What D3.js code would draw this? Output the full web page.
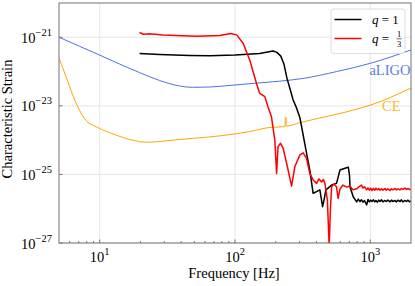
<!DOCTYPE html>
<html>
<head>
<meta charset="utf-8">
<script src="https://cdn.jsdelivr.net/npm/d3@7"></script>
<style>
  body { margin: 0; background: #fff; }
  svg { display: block; font-family: "Liberation Serif", "DejaVu Serif", serif; }
</style>
</head>
<body>
<div id="chart"></div>
<script>
// frequencies in Hz, strains as log10 exponents
const aligoFreq = [5, 7.07, 10, 14, 19.7, 27.7, 38.9, 48.6, 65, 100, 152, 214, 319, 563, 1000, 2000];
const aligoLogH = [-21.0, -21.26, -21.52, -21.78, -22.03, -22.26, -22.42, -22.46, -22.45, -22.39, -22.33, -22.28, -22.20, -22.00, -21.76, -21.37];

const ceFreq = [5, 5.64, 6.31, 7.07, 7.93, 9.4, 11.8, 14.8, 17.5, 22.1, 38.9, 100, 128.5, 181, 227, 234, 236, 238, 240, 302, 839, 1000, 2000];
const ceLogH = [-21.61, -22.15, -22.68, -23.12, -23.43, -23.61, -23.78, -23.92, -24.0, -24.06, -23.98, -23.82, -23.75, -23.63, -23.61, -23.60, -23.33, -23.33, -23.59, -23.49, -23.07, -22.98, -22.48];

const q1Freq = [19.7, 27.7, 46.1, 65, 100, 152, 191, 204, 218, 230, 242, 254, 269, 285, 302, 319, 338, 357, 378, 401, 424, 444, 458, 470, 518, 563, 597, 650, 688, 702, 708, 748,
  793, 815, 839, 860, 883, 905, 940, 962, 985, 1008, 1030, 1055, 1080, 1102, 1128, 1155, 1180, 1210, 1240, 1285, 1315, 1350, 1400, 1435, 1470, 1525, 1560, 1600, 1660, 1700, 1740, 1808, 1850, 1900, 1950, 2000];
const q1LogH = [-21.47, -21.50, -21.53, -21.54, -21.52, -21.47, -21.40, -21.44, -21.55, -21.78, -22.19, -22.48, -22.83, -23.06, -23.35, -23.85, -24.38, -24.87, -25.55, -25.50, -25.45, -25.94, -25.69, -25.45, -25.31, -25.26, -24.87, -24.82, -24.79, -25.02, -25.36, -25.65,
  -25.80, -25.72, -25.79, -25.74, -25.81, -25.76, -25.89, -25.73, -25.80, -25.75, -25.79, -25.74, -25.80, -25.76, -25.81, -25.75, -25.79, -25.74, -25.80, -25.76, -25.79, -25.75, -25.80, -25.75, -25.79, -25.76, -25.80, -25.75, -25.79, -25.74, -25.80, -25.76, -25.79, -25.75, -25.80, -25.77];

const q3Freq = [19.7, 21.1, 23.4, 29.1, 52, 77.1, 92.9, 103, 115, 128.5, 144, 152, 166, 175.5, 186, 197, 203, 208, 217, 227, 247, 262, 277, 302, 319, 338, 357, 378, 401, 417, 436, 450, 462, 482, 497, 507, 518, 538, 563, 579, 597, 628, 669, 708, 745,
  793, 815, 839, 860, 883, 905, 940, 962, 985, 1008, 1030, 1055, 1080, 1102, 1128, 1155, 1180, 1210, 1240, 1285, 1315, 1350, 1400, 1435, 1470, 1525, 1560, 1600, 1660, 1700, 1740, 1808, 1850, 1900, 1950, 2000];
const q3LogH = [-20.86, -20.91, -20.90, -20.93, -20.97, -20.95, -20.89, -20.93, -21.18, -21.66, -22.34, -22.63, -22.73, -23.03, -23.32, -24.0, -24.97, -24.19, -24.09, -24.24, -24.87, -25.34, -24.77, -24.43, -24.37, -24.53, -24.97, -25.16, -25.26, -25.13, -25.22, -25.15, -25.26, -25.75, -27.1, -26.04, -25.36, -25.28, -25.36, -25.70, -25.43, -25.31, -25.37, -25.34, -25.45,
  -25.42, -25.38, -25.34, -25.31, -25.40, -25.36, -25.45, -25.39, -25.46, -25.40, -25.47, -25.41, -25.46, -25.40, -25.45, -25.41, -25.46, -25.42, -25.46, -25.41, -25.46, -25.42, -25.47, -25.42, -25.45, -25.41, -25.45, -25.42, -25.45, -25.41, -25.44, -25.40, -25.44, -25.41, -25.44, -25.43];

const xTicks = [10, 100, 1000];
const yTicks = [1e-27, 1e-25, 1e-23, 1e-21];

const W = 415, H = 286;
const margin = {top: 3, right: 4, bottom: 43, left: 59};
const width = W - margin.left - margin.right,
  height = H - margin.top - margin.bottom;

const svg = d3.select("#chart").append("svg")
  .attr("width", W)
  .attr("height", H);

const g = svg.append("g")
  .attr("transform", `translate(${margin.left}, ${margin.top})`);

const x = d3.scaleLog().domain([5, 2000]).range([0, width]);
const y = d3.scaleLog().domain([1e-27, 1e-20]).range([height, 0]);

const toPts = (fs, hs) => fs.map((f, i) => ({f: f, h: Math.pow(10, hs[i])}));

g.append("clipPath").attr("id", "clip")
  .append("rect").attr("width", width).attr("height", height);

// grid
g.selectAll(".gx").data(xTicks).enter().append("line")
  .attr("x1", d => x(d)).attr("x2", d => x(d))
  .attr("y1", 0).attr("y2", height)
  .attr("stroke", "#e3e3e3").attr("stroke-width", 0.9);
g.selectAll(".gy").data(yTicks).enter().append("line")
  .attr("y1", d => y(d)).attr("y2", d => y(d))
  .attr("x1", 0).attr("x2", width)
  .attr("stroke", "#e3e3e3").attr("stroke-width", 0.9);

// minor x ticks (inward)
const minor = [];
[1, 10, 100, 1000].forEach(dec => { for (let k = 2; k <= 9; k++) { const v = k * dec; if (v > 5 && v < 2000) minor.push(v); } });
g.selectAll(".mx").data(minor).enter().append("line")
  .attr("x1", d => x(d)).attr("x2", d => x(d))
  .attr("y1", height).attr("y2", height - 2)
  .attr("stroke", "#555").attr("stroke-width", 0.8);
g.selectAll(".Mx").data(xTicks).enter().append("line")
  .attr("x1", d => x(d)).attr("x2", d => x(d))
  .attr("y1", height).attr("y2", height - 3.5)
  .attr("stroke", "#555").attr("stroke-width", 0.8);
g.selectAll(".My").data(yTicks).enter().append("line")
  .attr("y1", d => y(d)).attr("y2", d => y(d))
  .attr("x1", 0).attr("x2", 3.5)
  .attr("stroke", "#555").attr("stroke-width", 0.8);

const smooth = d3.line().x(d => x(d.f)).y(d => y(d.h)).curve(d3.curveMonotoneX);
const lin = d3.line().x(d => x(d.f)).y(d => y(d.h));

const plot = g.append("g").attr("clip-path", "url(#clip)");

plot.append("path").datum(toPts(aligoFreq, aligoLogH))
  .attr("d", smooth).attr("fill", "none")
  .attr("stroke", "#4a72e6").attr("stroke-width", 1);
plot.append("path").datum(toPts(ceFreq, ceLogH))
  .attr("d", smooth).attr("fill", "none")
  .attr("stroke", "#ffa500").attr("stroke-width", 1);

plot.append("path").datum(toPts(q1Freq, q1LogH))
  .attr("d", lin).attr("fill", "none")
  .attr("stroke", "#000").attr("stroke-width", 1.5).attr("stroke-linejoin", "round");
plot.append("path").datum(toPts(q3Freq, q3LogH))
  .attr("d", lin).attr("fill", "none")
  .attr("stroke", "#ff0000").attr("stroke-width", 1.5).attr("stroke-linejoin", "round");

// curve labels
g.append("text").attr("x", width - 0.5).attr("y", 72).attr("text-anchor", "end")
  .attr("font-size", 14.5).attr("fill", "#5a7ee8").text("aLIGO");
g.append("text").attr("x", 341.5).attr("y", 107.5).attr("text-anchor", "end")
  .attr("font-size", 14.5).attr("fill", "#ffb733").text("CE");

// frame
g.append("rect").attr("width", width).attr("height", height)
  .attr("fill", "none").attr("stroke", "#808080").attr("stroke-width", 1.1);

// tick labels
const yl = g.selectAll(".yl").data(yTicks).enter().append("text")
  .attr("x", -7).attr("y", d => y(d) + 5.5)
  .attr("text-anchor", "end").attr("font-size", 14.5);
yl.append("tspan").text("10");
yl.append("tspan").attr("dy", -7).attr("font-size", 10.5)
  .text(d => "\u2212" + Math.round(-Math.log10(d)));

const xl = g.selectAll(".xl").data(xTicks).enter().append("text")
  .attr("x", d => x(d)).attr("y", height + 18.5)
  .attr("text-anchor", "middle").attr("font-size", 14.5);
xl.append("tspan").text("10");
xl.append("tspan").attr("dy", -7).attr("font-size", 10.5)
  .text(d => Math.round(Math.log10(d)));

// axis titles
svg.append("text").attr("x", margin.left + x(100) - 1).attr("y", 277.5)
  .attr("text-anchor", "middle").attr("font-size", 14.5)
  .text("Frequency [Hz]");
svg.append("text")
  .attr("transform", `translate(12, 119) rotate(-90)`)
  .attr("text-anchor", "middle").attr("font-size", 14.5)
  .text("Characteristic Strain");

// legend
const lg = svg.append("g");
lg.append("rect").attr("x", 331).attr("y", 9).attr("width", 74).attr("height", 44.5)
  .attr("rx", 3).attr("fill", "#fff").attr("fill-opacity", 0.8)
  .attr("stroke", "#d9d9d9").attr("stroke-width", 0.9);
lg.append("line").attr("x1", 334.5).attr("x2", 361.5).attr("y1", 19.5).attr("y2", 19.5)
  .attr("stroke", "#000").attr("stroke-width", 1.5);
lg.append("line").attr("x1", 334.5).attr("x2", 361.5).attr("y1", 38.5).attr("y2", 38.5)
  .attr("stroke", "#ff0000").attr("stroke-width", 1.5);
const t1 = lg.append("text").attr("x", 372).attr("y", 23.5).attr("font-size", 13);
t1.append("tspan").attr("font-style", "italic").text("q");
t1.append("tspan").text(" = 1");
const t2 = lg.append("text").attr("x", 372).attr("y", 42.5).attr("font-size", 13);
t2.append("tspan").attr("font-style", "italic").text("q");
t2.append("tspan").text(" = ");
lg.append("text").attr("x", 399).attr("y", 37).attr("text-anchor", "middle")
  .attr("font-size", 8.5).text("1");
lg.append("line").attr("x1", 396.5).attr("x2", 401.5).attr("y1", 38.8).attr("y2", 38.8)
  .attr("stroke", "#000").attr("stroke-width", 0.6);
lg.append("text").attr("x", 399).attr("y", 46.5).attr("text-anchor", "middle")
  .attr("font-size", 8.5).text("3");
</script>
</body>
</html>
